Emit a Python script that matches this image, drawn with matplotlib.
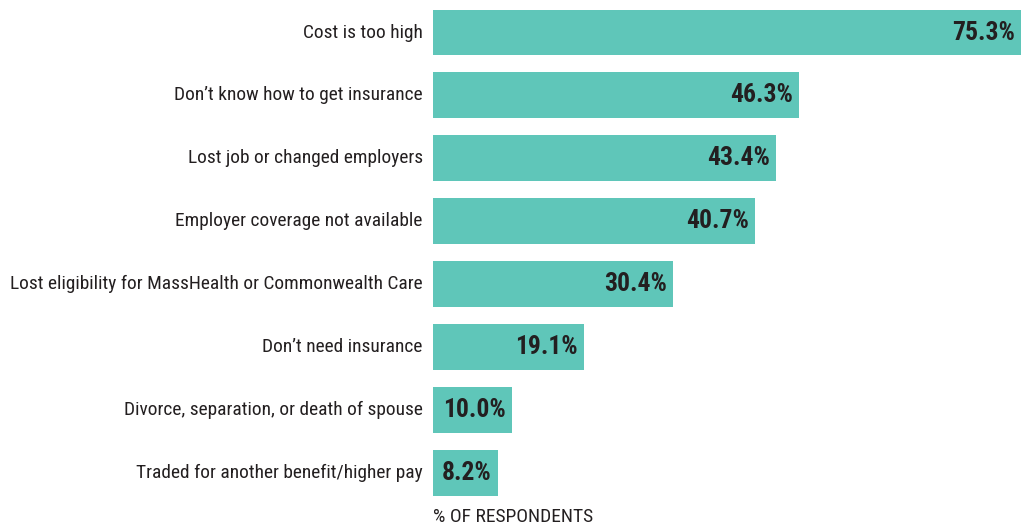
import matplotlib
matplotlib.use("Agg")
import matplotlib.pyplot as plt
from matplotlib import font_manager

categories = [
    "Cost is too high",
    "Don\u2019t know how to get insurance",
    "Lost job or changed employers",
    "Employer coverage not available",
    "Lost eligibility for MassHealth or Commonwealth Care",
    "Don\u2019t need insurance",
    "Divorce, separation, or death of spouse",
    "Traded for another benefit/higher pay",
]
values = [75.3, 46.3, 43.4, 40.7, 30.4, 19.1, 10.0, 8.2]
value_labels = ["75.3%", "46.3%", "43.4%", "40.7%", "30.4%", "19.1%", "10.0%", "8.2%"]
xlabel = "% OF RESPONDENTS"

names = {f.name for f in font_manager.fontManager.ttflist}
fam = "DejaVu Sans"
for cand in ["Roboto Condensed", "Archivo Narrow", "PT Sans Narrow",
             "Fira Sans Condensed", "IBM Plex Sans Condensed",
             "Asap Condensed", "Liberation Sans Narrow"]:
    if cand in names:
        fam = cand
        break

BAR = "#5fc6b9"
TXT = "#231f20"

W, H = 1021, 527
fig = plt.figure(figsize=(W / 100, H / 100), dpi=100)
renderer = fig.canvas.get_renderer()


def fit_size(s, target_px, base, weight="normal"):
    t = fig.text(0, 0, s, fontsize=base, family=fam, fontweight=weight)
    w = t.get_window_extent(renderer).width
    t.remove()
    return base * target_px / w


cat_fs = min(fit_size(categories[4], 412, 15), 16)
val_fs = min(fit_size(value_labels[0], 63, 18, "bold"), 19)
lab_fs = min(fit_size(xlabel, 163, 13), 14)

left = 433 / W
ax = fig.add_axes([left, 0, 1 - left, 1])
xmax = 74.4
ax.set_xlim(0, xmax)
ax.set_ylim(7.86, -0.517)

y = list(range(len(categories)))
ax.barh(y, values, height=0.73, color=BAR, edgecolor="none")
for yi, v, lab, cat in zip(y, values, value_labels, categories):
    ax.text(min(v, xmax) - 0.75, yi, lab, ha="right", va="center",
            fontsize=val_fs, fontweight="bold", color=TXT, family=fam)
    ax.text(-1.3, yi, cat, ha="right", va="center", fontsize=cat_fs,
            color=TXT, family=fam)

ax.axis("off")
fig.text(433 / W, 1 - 517 / H, xlabel, ha="left", va="center",
         fontsize=lab_fs, color=TXT, family=fam)

fig.savefig("out.png", dpi=100)
